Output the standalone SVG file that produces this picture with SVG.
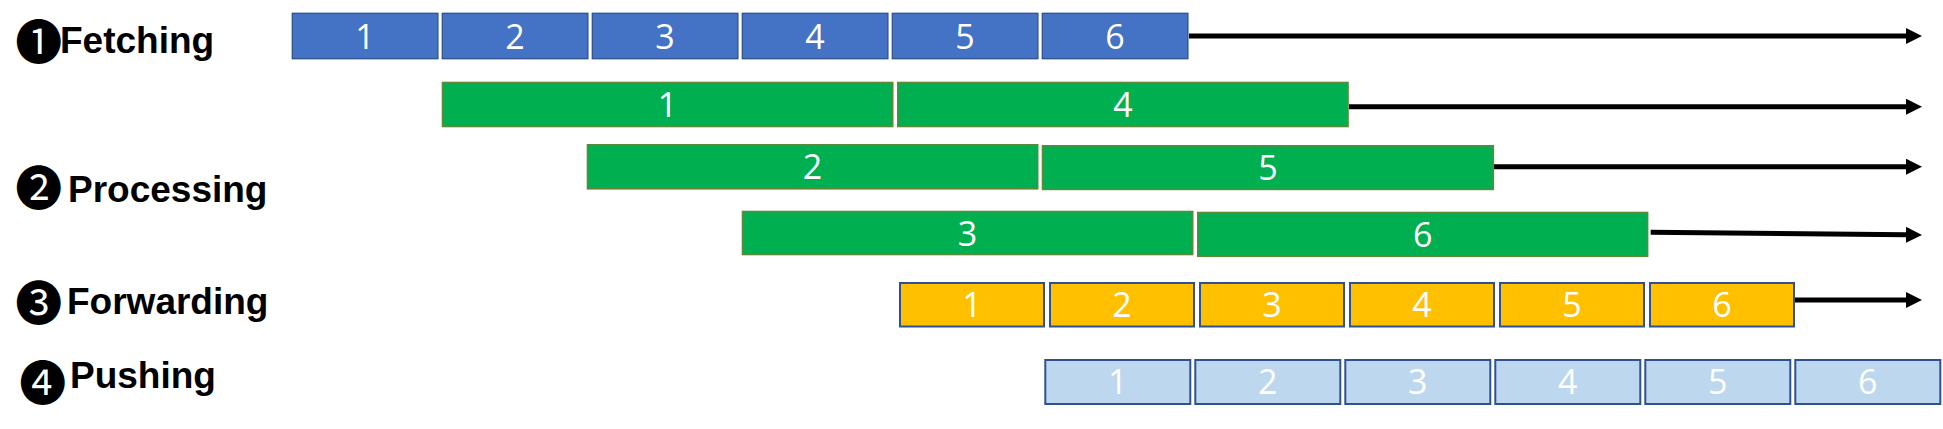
<svg xmlns="http://www.w3.org/2000/svg" width="1943" height="429" viewBox="0 0 1943 429">
<style>
.lbl{font-family:"Liberation Sans",Arial,sans-serif;font-weight:bold;font-size:37px;fill:#000}
.circ{font-family:"Noto Sans CJK SC","DejaVu Sans",sans-serif;font-size:47px;fill:#000;text-anchor:middle;dominant-baseline:central}
.num{font-family:"Open Sans","Noto Sans",sans-serif;font-weight:400;font-size:34px;fill:#fff;text-anchor:middle}
.fetch{fill:#4472C4;stroke:#2F528F;stroke-width:1.3}
.proc{fill:#00B050;stroke:#5B8A3A;stroke-width:1.6}
.fwd{fill:#FFC000;stroke:#2F528F;stroke-width:2}
.push{fill:#BDD7EE;stroke:#2F528F;stroke-width:2}
.arr{stroke:#000;stroke-width:5;fill:none;marker-end:url(#ah)}
</style>
<defs>
<marker id="ah" markerUnits="userSpaceOnUse" markerWidth="18" markerHeight="18" refX="0" refY="8" orient="auto">
<path d="M0,0 L16,8 L0,16 z" fill="#000"/>
</marker>
</defs>
<rect width="1943" height="429" fill="#fff"/>

<g id="labels">
<g id="label-fetching"><text class="circ" x="38.8" y="38.8">❶</text><text class="lbl" x="60" y="53.3">Fetching</text></g>
<g id="label-processing"><text class="circ" x="38.8" y="184.7">❷</text><text class="lbl" x="68" y="202.3">Processing</text></g>
<g id="label-forwarding"><text class="circ" x="38.8" y="299.7">❸</text><text class="lbl" x="67" y="313.5">Forwarding</text></g>
<g id="label-pushing"><text class="circ" x="42.8" y="379.2">❹</text><text class="lbl" x="70" y="388">Pushing</text></g>
</g>

<g id="connectors">
<line class="arr" x1="1189" y1="36" x2="1906" y2="36"/>
<line class="arr" x1="1349" y1="106.7" x2="1906" y2="106.7"/>
<line class="arr" x1="1494" y1="166.7" x2="1906" y2="166.7"/>
<line class="arr" x1="1650.7" y1="232.3" x2="1906" y2="234.8"/>
<line class="arr" x1="1795" y1="300" x2="1906" y2="300"/>
</g>

<g id="fetching">
<g id="f1"><rect class="fetch" x="292.3" y="13.3" width="145.6" height="45.4"/><text class="num" x="365.1" y="48.5">1</text></g>
<g id="f2"><rect class="fetch" x="442.3" y="13.3" width="145.6" height="45.4"/><text class="num" x="515.1" y="48.5">2</text></g>
<g id="f3"><rect class="fetch" x="592.3" y="13.3" width="145.6" height="45.4"/><text class="num" x="665.1" y="48.5">3</text></g>
<g id="f4"><rect class="fetch" x="742.3" y="13.3" width="145.6" height="45.4"/><text class="num" x="815.1" y="48.5">4</text></g>
<g id="f5"><rect class="fetch" x="892.3" y="13.3" width="145.6" height="45.4"/><text class="num" x="965.1" y="48.5">5</text></g>
<g id="f6"><rect class="fetch" x="1042.3" y="13.3" width="145.6" height="45.4"/><text class="num" x="1115.1" y="48.5">6</text></g>
</g>

<g id="processing">
<g id="p1"><rect class="proc" x="442.5" y="82.5" width="450.2" height="44"/><text class="num" x="667.6" y="117">1</text></g>
<g id="p4"><rect class="proc" x="897.8" y="82.5" width="450.2" height="44"/><text class="num" x="1122.9" y="117">4</text></g>
<g id="p2"><rect class="proc" x="587.5" y="144.8" width="450.2" height="44"/><text class="num" x="812.6" y="179.3">2</text></g>
<g id="p5"><rect class="proc" x="1042.5" y="145.8" width="450.8" height="43.6"/><text class="num" x="1267.9" y="180.1">5</text></g>
<g id="p3"><rect class="proc" x="742.5" y="211.5" width="450.2" height="43"/><text class="num" x="967.6" y="245.5">3</text></g>
<g id="p6"><rect class="proc" x="1197.8" y="212.5" width="449.8" height="43.8"/><text class="num" x="1422.7" y="246.9">6</text></g>
</g>

<g id="forwarding">
<g id="w1"><rect class="fwd" x="900" y="283" width="144" height="43.5"/><text class="num" x="972" y="316.5">1</text></g>
<g id="w2"><rect class="fwd" x="1050" y="283" width="144" height="43.5"/><text class="num" x="1122" y="316.5">2</text></g>
<g id="w3"><rect class="fwd" x="1200" y="283" width="144" height="43.5"/><text class="num" x="1272" y="316.5">3</text></g>
<g id="w4"><rect class="fwd" x="1350" y="283" width="144" height="43.5"/><text class="num" x="1422" y="316.5">4</text></g>
<g id="w5"><rect class="fwd" x="1500" y="283" width="144" height="43.5"/><text class="num" x="1572" y="316.5">5</text></g>
<g id="w6"><rect class="fwd" x="1650" y="283" width="144" height="43.5"/><text class="num" x="1722" y="316.5">6</text></g>
</g>

<g id="pushing">
<g id="u1"><rect class="push" x="1045.3" y="360" width="145" height="44"/><text class="num" x="1117.8" y="394">1</text></g>
<g id="u2"><rect class="push" x="1195.3" y="360" width="145" height="44"/><text class="num" x="1267.8" y="394">2</text></g>
<g id="u3"><rect class="push" x="1345.3" y="360" width="145" height="44"/><text class="num" x="1417.8" y="394">3</text></g>
<g id="u4"><rect class="push" x="1495.3" y="360" width="145" height="44"/><text class="num" x="1567.8" y="394">4</text></g>
<g id="u5"><rect class="push" x="1645.3" y="360" width="145" height="44"/><text class="num" x="1717.8" y="394">5</text></g>
<g id="u6"><rect class="push" x="1795.3" y="360" width="145" height="44"/><text class="num" x="1867.8" y="394">6</text></g>
</g>
</svg>
